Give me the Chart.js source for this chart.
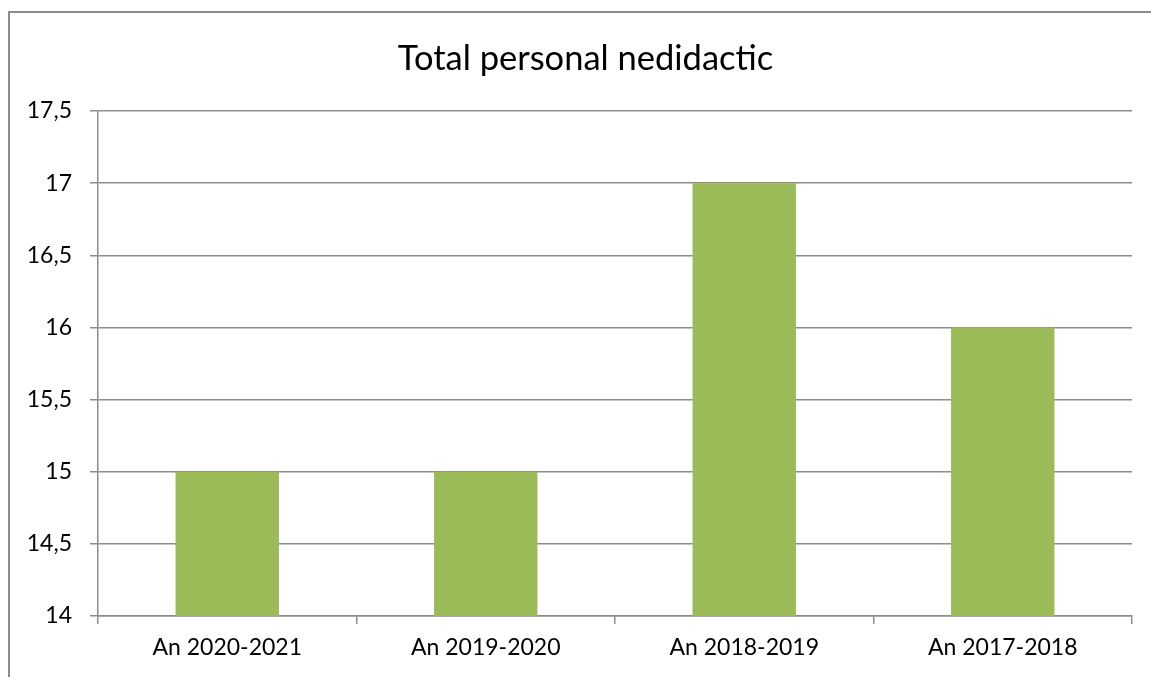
<!DOCTYPE html>
<html>
<head>
<meta charset="utf-8">
<script src="https://cdn.jsdelivr.net/npm/chart.js@4"></script>
<style>
  html, body { margin: 0; padding: 0; background: #fff; overflow: hidden; }
  .frame {
    position: absolute; left: 8px; top: 11px; width: 1160px; height: 700px;
    border: 2px solid #8c8c8c; box-sizing: border-box;
  }
  .chart { position: absolute; left: 0; top: 0; width: 1151px; height: 677px; }
  .chart__title {
    position: absolute; left: 0; top: 36px; width: 1171px; text-align: center;
    font-family: Lato, sans-serif; font-size: 34.5px; line-height: 41px; color: #000;
  }
</style>
</head>
<body>
<div class="frame"></div>
<div class="chart"><canvas id="staff"></canvas></div>
<div class="chart__title" id="title"></div>
<script>
const categories = ["An 2020-2021", "An 2019-2020", "An 2018-2019", "An 2017-2018"];
const staffValues = [15, 15, 17, 16];
const chartTitle = "Total personal nedidactic";

document.getElementById("title").textContent = chartTitle;

const ctx = document.getElementById("staff").getContext("2d");
new Chart(ctx, {
    type: 'bar',
    data: {
        labels: categories,
        datasets: [{
            label: chartTitle,
            data: staffValues,
            backgroundColor: '#9BBB59',
            borderWidth: 0,
            categoryPercentage: 0.4,
            barPercentage: 1,
        }]
    },
    options: {
        responsive: true,
        maintainAspectRatio: false,
        animation: false,
        layout: { padding: { left: 0, right: 19, top: 111, bottom: 0 } },
        plugins: {
            legend: { display: false },
            tooltip: { enabled: false },
        },
        scales: {
            x: {
                ticks: {
                    color: '#000',
                    font: { family: 'Lato', size: 23 },
                    padding: 10,
                    maxRotation: 0,
                },
                grid: {
                    drawOnChartArea: false,
                    tickLength: 8,
                    color: '#8c8c8c',
                    lineWidth: 1.5,
                },
                border: { color: '#8c8c8c', width: 1.5 },
                afterFit: (scale) => { scale.height = 61; },
            },
            y: {
                min: 14,
                max: 17.5,
                ticks: {
                    stepSize: 0.5,
                    color: '#000',
                    font: { family: 'Lato', size: 23 },
                    padding: 18,
                    callback: (v) => String(v).replace('.', ','),
                },
                grid: {
                    tickLength: 8,
                    color: '#8c8c8c',
                    lineWidth: 1.5,
                },
                border: { color: '#8c8c8c', width: 1.5 },
                afterFit: (scale) => { scale.width = 98; },
            },
        },
    }
});
</script>
</body>
</html>
